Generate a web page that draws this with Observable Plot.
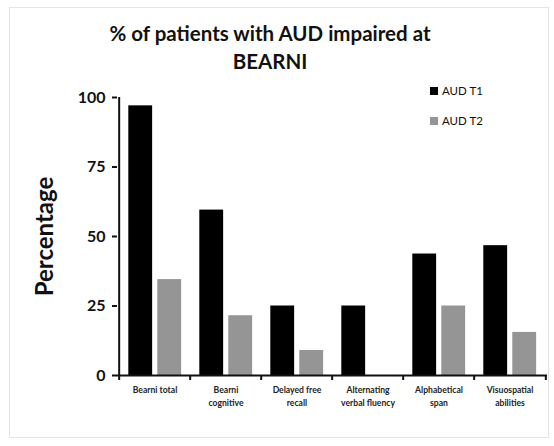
<!DOCTYPE html>
<html>
<head>
<meta charset="utf-8">
<script src="https://cdn.jsdelivr.net/npm/d3@7"></script>
<script src="https://cdn.jsdelivr.net/npm/@observablehq/plot@0.6"></script>
<style>
  html, body { margin: 0; padding: 0; background: #fff; }
  body { width: 554px; height: 446px; overflow: hidden; font-family: Lato, "Open Sans", sans-serif; }
  #wrap { position: relative; width: 554px; height: 446px; }
  #border { position: absolute; left: 9px; top: 7px; width: 540px; height: 431px; border: 1px solid #e4e4e4; box-sizing: border-box; }
  #title { position: absolute; left: 70px; width: 400px; top: 19px; text-align: center; font-weight: 700; font-size: 20.5px; line-height: 28px; color: #111; }
  #legend { position: absolute; left: 430px; top: 82px; font-size: 11.5px; color: #111; }
  #legend .item { display: flex; align-items: center; height: 17px; margin-bottom: 13px; }
  #legend .sw { width: 8px; height: 8px; margin-right: 4px; }
  #chart { position: absolute; left: 0; top: 0; }
</style>
</head>
<body>
<div id="wrap">
  <div id="border"></div>
  <div id="chart"></div>
  <div id="title">% of patients with AUD impaired at<br>BEARNI</div>
  <div id="legend"></div>
</div>
<script>
const categories = ["Bearni total", "Bearni cognitive", "Delayed free recall", "Alternating verbal fluency", "Alphabetical span", "Visuospatial abilities"];
const tickLabels = ["Bearni total", "Bearni\ncognitive", "Delayed free\nrecall", "Alternating\nverbal fluency", "Alphabetical\nspan", "Visuospatial\nabilities"];
const seriesNames = ["AUD T1", "AUD T2"];
const t1Values = [97, 59.5, 25, 25, 43.7, 46.7];
const t2Values = [34.5, 21.5, 9, 0, 25, 15.5];
const yTicks = [0, 25, 50, 75, 100];
const colors = ["#000000", "#959595"];

const rowsT1 = categories.map((c, i) => ({category: c, series: seriesNames[0], value: t1Values[i]}));
const rowsT2 = categories.map((c, i) => ({category: c, series: seriesNames[1], value: t2Values[i]}));
const labelOf = new Map(categories.map((c, i) => [c, tickLabels[i]]));

const W = 554, H = 446;
const mL = 117, mR = 7, mT = 97, mB = 71;
const step = (W - mL - mR) / categories.length;
const barW = 24.5;
const outer = 9.3, gap = 4.5;

const chart = Plot.plot({
  width: W,
  height: H,
  marginLeft: mL,
  marginRight: mR,
  marginTop: mT,
  marginBottom: mB,
  style: {fontFamily: "Lato, 'Open Sans', sans-serif", color: "#111", background: "transparent", overflow: "visible"},
  x: {domain: categories, padding: 0, axis: null},
  y: {domain: [0, 100], axis: null},
  marks: [
    Plot.barY(rowsT1, {x: "category", y: "value", fill: colors[0],
      insetLeft: outer, insetRight: step - outer - barW}),
    Plot.barY(rowsT2.filter(d => d.value > 0), {x: "category", y: "value", fill: colors[1],
      insetLeft: outer + barW + gap, insetRight: step - outer - 2 * barW - gap}),
    Plot.ruleY([0], {stroke: "#111", strokeWidth: 2}),
    Plot.ruleX(categories, {x: d => d, dx: -step / 2, y1: 0, y2: 0, insetTop: 5, stroke: "#111", strokeWidth: 2}),
    Plot.ruleX([categories[categories.length - 1]], {x: d => d, dx: step / 2, y1: 0, y2: 0, insetTop: 5, stroke: "#111", strokeWidth: 2}),
    Plot.axisX({tickSize: 0, tickPadding: 9, fontSize: 8.6, fontWeight: "bold", lineHeight: 1.45,
      tickFormat: d => labelOf.get(d), label: null, fill: "#222"}),
    Plot.ruleX([categories[0]], {x: d => d, dx: -step / 2, y1: 0, y2: 100, stroke: "#111", strokeWidth: 2}),
    Plot.axisY({ticks: yTicks, tickSize: 5, tickPadding: 7, fontSize: 16, fontWeight: "bold",
      strokeWidth: 2, label: null, fill: "#111"}),
    Plot.text(["Percentage"], {text: d => d, frameAnchor: "left", rotate: -90, dx: -72,
      fontSize: 24, fontWeight: "bold", textAnchor: "middle", lineAnchor: "middle", fill: "#111"})
  ]
});
document.getElementById("chart").appendChild(chart);

const legend = document.getElementById("legend");
seriesNames.forEach((name, i) => {
  const item = document.createElement("div");
  item.className = "item";
  const sw = document.createElement("span");
  sw.className = "sw";
  sw.style.background = colors[i];
  const tx = document.createElement("span");
  tx.textContent = name;
  item.appendChild(sw);
  item.appendChild(tx);
  legend.appendChild(item);
});
</script>
</body>
</html>
